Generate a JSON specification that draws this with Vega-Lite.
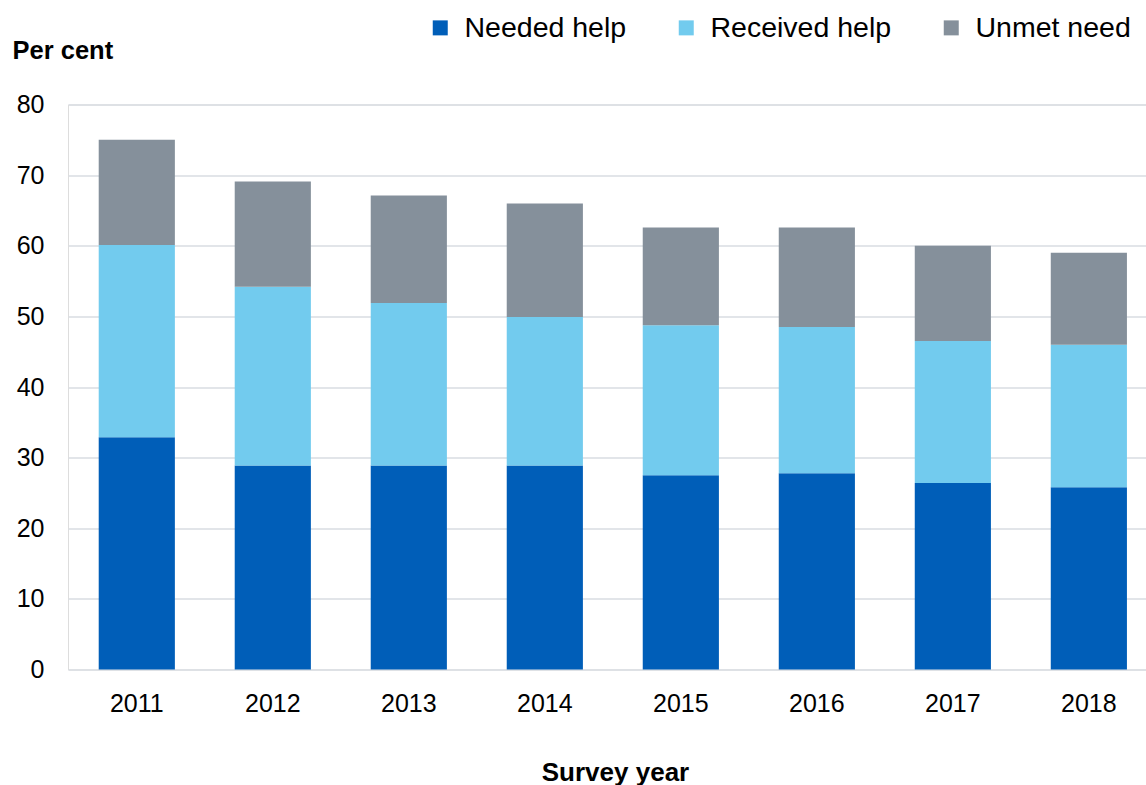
{
  "$schema": "https://vega.github.io/schema/vega-lite/v6.json",
  "width": 1078,
  "height": 565,
  "autosize": {"type": "none"},
  "padding": {"left": 68, "top": 104.5, "right": 0, "bottom": 115.5},
  "background": "white",
  "data": {
    "values": [
      {"year": "2011", "category": "Needed help", "value": 32.9},
      {"year": "2011", "category": "Received help", "value": 27.2},
      {"year": "2011", "category": "Unmet need", "value": 14.9},
      {"year": "2012", "category": "Needed help", "value": 28.9},
      {"year": "2012", "category": "Received help", "value": 25.3},
      {"year": "2012", "category": "Unmet need", "value": 14.9},
      {"year": "2013", "category": "Needed help", "value": 28.9},
      {"year": "2013", "category": "Received help", "value": 23.0},
      {"year": "2013", "category": "Unmet need", "value": 15.2},
      {"year": "2014", "category": "Needed help", "value": 28.9},
      {"year": "2014", "category": "Received help", "value": 21.0},
      {"year": "2014", "category": "Unmet need", "value": 16.1},
      {"year": "2015", "category": "Needed help", "value": 27.5},
      {"year": "2015", "category": "Received help", "value": 21.25},
      {"year": "2015", "category": "Unmet need", "value": 13.85},
      {"year": "2016", "category": "Needed help", "value": 27.8},
      {"year": "2016", "category": "Received help", "value": 20.7},
      {"year": "2016", "category": "Unmet need", "value": 14.1},
      {"year": "2017", "category": "Needed help", "value": 26.4},
      {"year": "2017", "category": "Received help", "value": 20.1},
      {"year": "2017", "category": "Unmet need", "value": 13.5},
      {"year": "2018", "category": "Needed help", "value": 25.8},
      {"year": "2018", "category": "Received help", "value": 20.2},
      {"year": "2018", "category": "Unmet need", "value": 13.0}
    ]
  },
  "mark": {"type": "bar"},
  "encoding": {
    "x": {
      "field": "year",
      "type": "ordinal",
      "scale": {"paddingInner": 0.44, "paddingOuter": 0.183, "align": 0.617},
      "axis": {
        "title": "Survey year",
        "titleFont": "Liberation Sans",
        "titleFontSize": 26,
        "titleFontWeight": "bold",
        "titleColor": "#000000",
        "titleBaseline": "middle",
        "titleAnchor": "start",
        "titleAlign": "center",
        "titleX": 547,
        "titleY": 102.5,
        "labelAngle": 0,
        "labelFont": "Liberation Sans",
        "labelFontSize": 25,
        "labelColor": "#000000",
        "labelPadding": 22,
        "ticks": false,
        "domain": false,
        "grid": false
      }
    },
    "y": {
      "field": "value",
      "type": "quantitative",
      "stack": "zero",
      "scale": {"domain": [0, 80], "nice": false},
      "axis": {
        "title": "Per cent",
        "titleFont": "Liberation Sans",
        "titleFontSize": 25.5,
        "titleFontWeight": "bold",
        "titleColor": "#000000",
        "titleAngle": 0,
        "titleAlign": "left",
        "titleBaseline": "middle",
        "titleX": -56,
        "titleY": -54,
        "values": [0, 10, 20, 30, 40, 50, 60, 70, 80],
        "labelFont": "Liberation Sans",
        "labelFontSize": 25,
        "labelColor": "#000000",
        "labelPadding": 24,
        "ticks": false,
        "domain": false,
        "grid": true,
        "gridColor": "#d9dde2",
        "gridWidth": 1.5
      }
    },
    "order": {"field": "category", "sort": "ascending"},
    "color": {
      "field": "category",
      "type": "nominal",
      "scale": {
        "domain": ["Needed help", "Received help", "Unmet need"],
        "range": ["#005EB8", "#72CBEE", "#85909B"]
      },
      "legend": {
        "title": null,
        "orient": "none",
        "direction": "horizontal",
        "legendX": 358,
        "legendY": -91,
        "symbolType": "square",
        "symbolSize": 225,
        "symbolStrokeWidth": 0,
        "labelFont": "Liberation Sans",
        "labelFontSize": 28.5,
        "labelColor": "#000000",
        "labelLimit": 0,
        "labelOffset": 10,
        "columnPadding": 45
      }
    }
  }
}
